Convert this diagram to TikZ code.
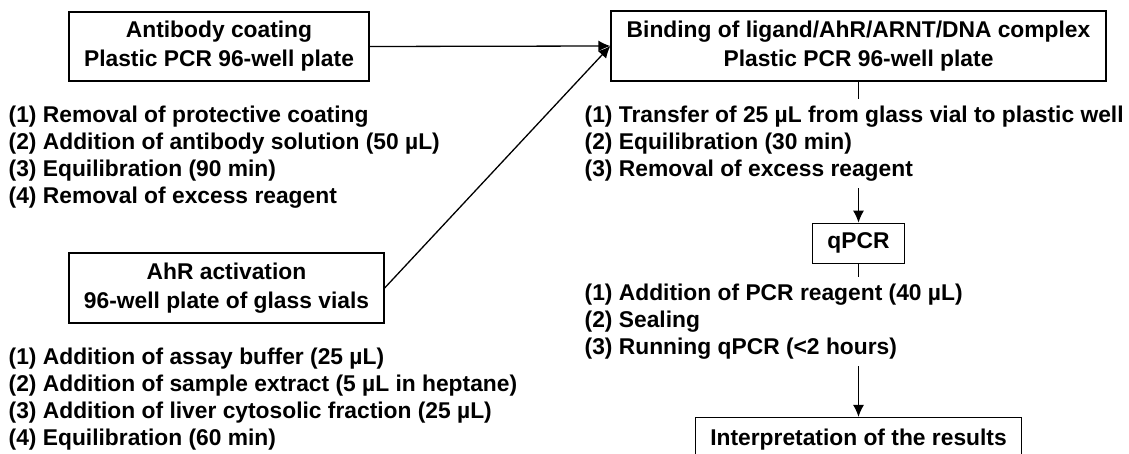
\documentclass[tikz,border=0pt]{standalone}
\usepackage{fontspec}
\setmainfont{Liberation Sans}
\usetikzlibrary{positioning,arrows.meta}

\begin{document}
\begin{tikzpicture}[x=1pt, y=-1pt,
  box/.style={draw, line width=1.3pt, align=center, inner sep=0pt,
    font=\bfseries\fontsize{22.8}{29}\selectfont},
  steps/.style={fill=white, align=left, inner xsep=0pt, inner ysep=7pt,
    font=\bfseries\fontsize{22.8}{27}\selectfont},
  flow/.style={line width=1.3pt, -{Latex[length=12pt,width=11pt]}}]
  \useasboundingbox (0,0) rectangle (1129,454);
  \clip (0,0) rectangle (1129,454);

  % Riquadri
  \node[box, minimum width=300pt, minimum height=69pt] (abcoat) at (219,46.5)
    {Antibody coating\\Plastic PCR 96-well plate};
  \node[box, minimum width=495pt, minimum height=70pt] (bind) at (858.5,46)
    {Binding of ligand/AhR/ARNT/DNA complex\\Plastic PCR 96-well plate};
  \node[box, minimum width=315pt, minimum height=70pt] (ahr) at (226.5,288)
    {AhR activation\\96-well plate of glass vials};
  \node[box, minimum width=92pt, minimum height=40pt, below=141pt of bind] (qpcr) {qPCR};
  \node[box, minimum width=326pt, minimum height=44pt, below=153pt of qpcr] (interp)
    {Interpretation of the results};

  % Frecce
  \draw[flow] (abcoat.east) -- (bind.west);
  \draw[flow] (ahr.east) -- (bind.west);
  \draw[flow] (bind) -- (qpcr);
  \draw[flow] (qpcr) -- (interp);

  % Passaggi
  \node[steps, anchor=north west] (abstep) at (8.5,98.6)
    {(1) Removal of protective coating\\
     (2) Addition of antibody solution (50 µL)\\
     (3) Equilibration (90 min)\\
     (4) Removal of excess reagent};
  \node[steps, anchor=north west] (ahrstep) at (8.5,340.6)
    {(1) Addition of assay buffer (25 µL)\\
     (2) Addition of sample extract (5 µL in heptane)\\
     (3) Addition of liver cytosolic fraction (25 µL)\\
     (4) Equilibration (60 min)};
  \node[steps, anchor=north west] (bindstep) at (584.5,98.6)
    {(1) Transfer of 25 µL from glass vial to plastic well\\
     (2) Equilibration (30 min)\\
     (3) Removal of excess reagent};
  \node[steps, anchor=north west] (qpcrstep) at (584.5,276.6)
    {(1) Addition of PCR reagent (40 µL)\\
     (2) Sealing\\
     (3) Running qPCR (<2 hours)};
\end{tikzpicture}
\end{document}
